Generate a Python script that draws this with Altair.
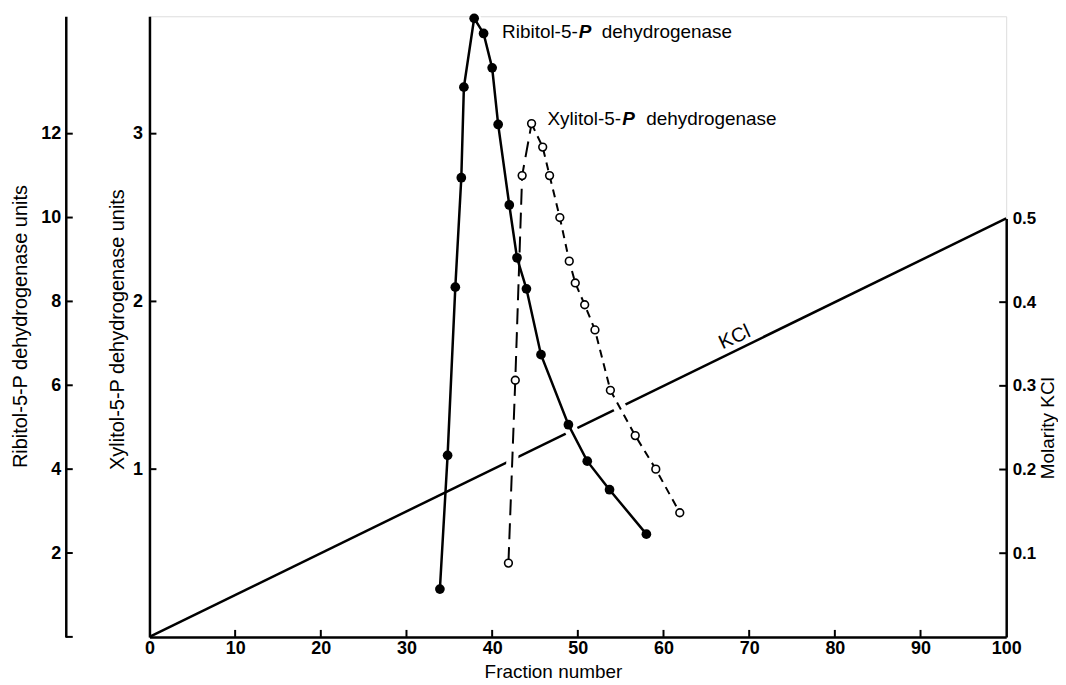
import altair as alt
import pandas as pd

# ---- data ----
rib_fraction = [33.9, 34.8, 35.7, 36.4, 36.7, 37.9, 39.0, 40.0, 40.7, 42.0, 42.9, 44.0, 45.7, 48.9, 51.1, 53.7, 58.0]
rib_units = [1.14, 4.33, 8.34, 10.95, 13.11, 14.75, 14.39, 13.57, 12.22, 10.30, 9.04, 8.30, 6.73, 5.06, 4.19, 3.51, 2.45]

xyl_fraction = [41.9, 42.7, 43.5, 44.6, 45.9, 46.7, 47.9, 49.0, 49.7, 50.8, 52.0, 53.8, 56.7, 59.1, 61.9]
xyl_units = [0.44, 1.53, 2.75, 3.06, 2.92, 2.75, 2.50, 2.24, 2.11, 1.98, 1.83, 1.47, 1.20, 1.00, 0.74]

kcl_fraction = [0, 100]
kcl_molarity = [0.0, 0.5]

kcl_label_fraction = [68.3]
kcl_label_molarity = [0.358]

x_labels = [0, 10, 20, 30, 40, 50, 60, 70, 80, 90, 100]
x_tick_marks = [10, 20, 30, 40, 50, 60, 70, 80, 90]
rib_labels_at = [2, 4, 6, 8, 10, 12]
rib_tick_marks = [0, 2, 4, 6, 8, 10, 12]
xyl_ticks = [1, 2, 3]
kcl_labels_at = [0.1, 0.2, 0.3, 0.4, 0.5]
kcl_tick_marks = [0.1, 0.2, 0.3, 0.4]

# ---- tables ----
rib = pd.DataFrame({"fraction": rib_fraction, "units": rib_units})
rp = rib_units.index(max(rib_units))
rib_fall = rib.iloc[rp:]
rib_peak = rib.iloc[[rp]].copy()

xyl = pd.DataFrame({"fraction": xyl_fraction, "units": xyl_units})
xp = xyl_units.index(max(xyl_units))
xyl_rise = xyl.iloc[: xp + 1]
xyl_fall = xyl.iloc[xp:]
xyl_peak = xyl.iloc[[xp]].copy()

kcl = pd.DataFrame({"fraction": kcl_fraction, "molarity": kcl_molarity})
kcl_lab = pd.DataFrame({"fraction": kcl_label_fraction, "molarity": kcl_label_molarity, "label": ["KCl"]})

# ---- styling ----
W, H = 860, 623
FONT = "Liberation Sans"
LW = 2.5
TL = 7          # tick length (inward)
RIB_OFF = 84    # offset of the outer (ribitol) axis

xs = alt.Scale(domain=[0, 100], nice=False, zero=False)
ys_rib = alt.Scale(domain=[0, 14.8], nice=False, zero=False)
ys_xyl = alt.Scale(domain=[0, 3.70], nice=False, zero=False)
ys_kcl = alt.Scale(domain=[0, 0.5], range=[H, H - 420], nice=False, zero=False)

common = dict(domain=True, domainWidth=LW, domainColor="black", ticks=False, grid=False,
              labelFont=FONT, labelFontWeight="bold", labelColor="black",
              labelFlush=False, labelOverlap=False,
              titleFont=FONT, titleFontWeight="normal", titleColor="black",
              titleAlign="center", titleBaseline="middle")

x_axis = alt.Axis(values=x_labels, labelFontSize=18, labelPadding=3,
                  title="Fraction number", titleFontSize=19, titleX=405, titleY=35, **common)

rib_axis = alt.Axis(orient="left", offset=RIB_OFF, values=rib_labels_at, labelFontSize=18, labelPadding=5,
                    title="Ribitol-5-P dehydrogenase units", titleFontSize=20,
                    titleX=-45, titleY=311, **common)

xyl_axis = alt.Axis(orient="left", offset=0, values=xyl_ticks, labelFontSize=18, labelPadding=7,
                    title="Xylitol-5-P dehydrogenase units", titleFontSize=20,
                    titleX=-32, titleY=314, **common)

kcl_axis = alt.Axis(orient="right", values=kcl_labels_at, labelFontSize=17, labelPadding=6,
                    title="Molarity KCl", titleFontSize=19, titleAngle=270,
                    titleX=41, titleY=413, **common)


def X(axis=None):
    return alt.X("fraction:Q", scale=xs, axis=axis)


def YR(axis=None):
    return alt.Y("units:Q", scale=ys_rib, axis=axis)


def YX(axis=None):
    return alt.Y("units:Q", scale=ys_xyl, axis=axis)


def YK(axis=None):
    return alt.Y("molarity:Q", scale=ys_kcl, axis=axis)


kcl_line = alt.Chart(kcl).mark_line(color="black", strokeWidth=LW).encode(x=X(x_axis), y=YK(kcl_axis))

# inward tick marks, placed by the scales
tick_style = dict(color="black", strokeWidth=2)
x_ticks_layer = alt.Chart(pd.DataFrame({"fraction": x_tick_marks})).mark_rule(**tick_style).encode(
    x=X(), y=alt.value(H), y2=alt.value(H - TL))
rib_ticks_layer = alt.Chart(pd.DataFrame({"units": rib_tick_marks})).mark_rule(**tick_style).encode(
    y=YR(), x=alt.value(-RIB_OFF), x2=alt.value(-RIB_OFF + TL))
xyl_ticks_layer = alt.Chart(pd.DataFrame({"units": xyl_ticks})).mark_rule(**tick_style).encode(
    y=YX(), x=alt.value(0), x2=alt.value(TL))
kcl_ticks_layer = alt.Chart(pd.DataFrame({"molarity": kcl_tick_marks})).mark_rule(**tick_style).encode(
    y=YK(), x=alt.value(W), x2=alt.value(W - TL))

halo_rib = alt.Chart(rib_fall).mark_line(color="white", strokeWidth=13).encode(x=X(), y=YR())
halo_xr = alt.Chart(xyl_rise).mark_line(color="white", strokeWidth=12).encode(x=X(), y=YX())
halo_xf = alt.Chart(xyl_fall).mark_line(color="white", strokeWidth=13).encode(x=X(), y=YX())

rib_line = alt.Chart(rib).mark_line(color="black", strokeWidth=LW).encode(x=X(), y=YR(rib_axis))
rib_pts = alt.Chart(rib).mark_circle(color="black", size=95, opacity=1).encode(x=X(), y=YR())

xyl_rise_line = alt.Chart(xyl_rise).mark_line(color="black", strokeWidth=2, strokeDash=[16, 8]).encode(
    x=X(), y=YX(xyl_axis))
xyl_fall_line = alt.Chart(xyl_fall).mark_line(color="black", strokeWidth=2, strokeDash=[8, 6]).encode(
    x=X(), y=YX())
xyl_pts = alt.Chart(xyl).mark_point(shape="circle", filled=True, fill="white", stroke="black",
                                    strokeWidth=1.6, size=60, opacity=1).encode(x=X(), y=YX())


def peak_label(df, yfun, dy, parts):
    layers = []
    for text, dx, weight, style in parts:
        d = df.assign(label=text)
        layers.append(
            alt.Chart(d).mark_text(align="left", baseline="middle", font=FONT, fontSize=19,
                                   fontWeight=weight, fontStyle=style, color="black", dx=dx, dy=dy)
            .encode(x=X(), y=yfun(), text="label:N")
        )
    return layers


rib_parts = [("Ribitol-5-", 28, "normal", "normal"), ("P", 105, "bold", "italic"),
             ("dehydrogenase", 128, "normal", "normal")]
xyl_parts = [("Xylitol-5-", 16, "normal", "normal"), ("P", 91, "bold", "italic"),
             ("dehydrogenase", 115, "normal", "normal")]

rib_labels = peak_label(rib_peak, YR, 14, rib_parts)
xyl_labels = peak_label(xyl_peak, YX, -5, xyl_parts)

kcl_text = alt.Chart(kcl_lab).mark_text(font=FONT, fontSize=20, angle=335, color="black").encode(
    x=X(), y=YK(), text="label:N")

chart = alt.layer(
    kcl_line, x_ticks_layer, rib_ticks_layer, xyl_ticks_layer, kcl_ticks_layer,
    halo_rib, halo_xr, halo_xf,
    rib_line, xyl_rise_line, xyl_fall_line,
    rib_pts, xyl_pts,
    *rib_labels, *xyl_labels, kcl_text,
).resolve_scale(y="independent").resolve_axis(x="independent", y="independent").properties(
    width=W, height=H,
    autosize=alt.AutoSizeParams(type="none"),
    padding={"left": 142, "top": 7, "right": 52, "bottom": 47},
).configure_view(stroke=None).configure(background="white")

chart.save("out.html", embed_options={"renderer": "svg", "actions": False})
